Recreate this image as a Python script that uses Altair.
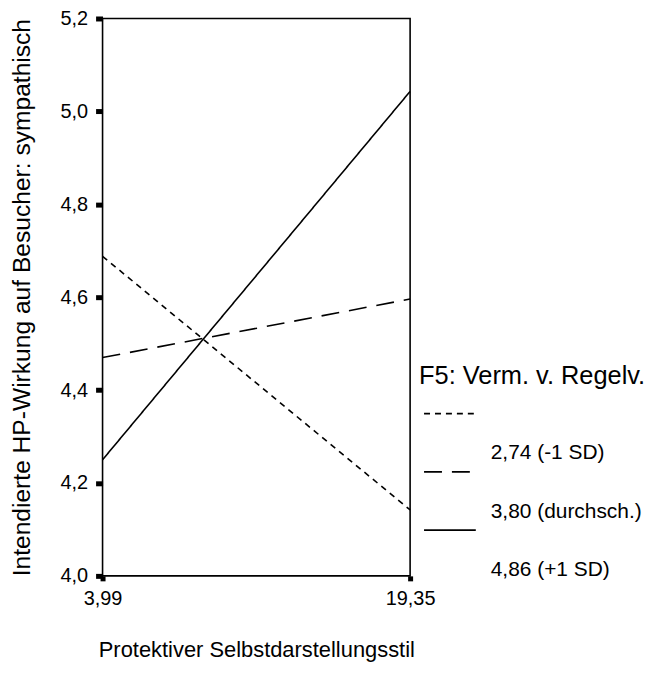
import altair as alt
import pandas as pd

# ---- data ----
series = ["2,74 (-1 SD)", "3,80 (durchsch.)", "4,86 (+1 SD)"]
x_vals = [3.99, 19.35]
y_low = [4.688, 4.142]    # dotted
y_mid = [4.470, 4.596]    # long dash
y_high = [4.250, 5.043]   # solid

y_ticks = [4.0, 4.2, 4.4, 4.6, 4.8, 5.0, 5.2]
x_ticks = [3.99, 19.35]

legend_title = "F5: Verm. v. Regelv."
x_title = "Protektiver Selbstdarstellungsstil"
y_title = "Intendierte HP-Wirkung auf Besucher: sympathisch"

FONT = "Liberation Sans"

rows = []
for s, ys in zip(series, [y_low, y_mid, y_high]):
    for xv, yv in zip(x_vals, ys):
        rows.append({"x": xv, "y": yv, "series": s})
df = pd.DataFrame(rows)

dash_plot = [[6, 5], [18, 10], [1, 0]]
dash_leg = [[6, 10], [17, 15], [1, 0]]

main = alt.Chart(df).mark_line(color="black", strokeWidth=1.6).encode(
    x=alt.X("x:Q",
            scale=alt.Scale(domain=[x_ticks[0], x_ticks[-1]], nice=False, zero=False),
            axis=alt.Axis(values=x_ticks, title=x_title, labelFlush=False,
                          labelExpr="replace(format(datum.value, '.2f'), '.', ',')",
                          tickSize=5, tickWidth=5, labelPadding=8, titlePadding=31,
                          labelFontSize=20, titleFontSize=22)),
    y=alt.Y("y:Q",
            scale=alt.Scale(domain=[y_ticks[0], y_ticks[-1]], nice=False, zero=False),
            axis=alt.Axis(values=y_ticks, title=y_title, labelFlush=False,
                          labelExpr="replace(format(datum.value, '.1f'), '.', ',')",
                          tickSize=7, tickWidth=5, labelPadding=8, titlePadding=26,
                          labelFontSize=20, titleFontSize=24.7)),
    strokeDash=alt.StrokeDash("series:N",
                              scale=alt.Scale(domain=series, range=dash_plot),
                              legend=None),
    detail="series:N",
).properties(width=309, height=560,
             view=alt.ViewBackground(stroke="black", strokeWidth=1.6))

leg_df = pd.DataFrame({"series": series})
leg_base = alt.Chart(leg_df).transform_window(row="row_number()")

yleg = alt.Y("row:Q", scale=alt.Scale(domain=[1, 3], range=[397, 514]), axis=None)

leg_rules = leg_base.mark_rule(color="black", strokeWidth=1.6).encode(
    y=yleg,
    x=alt.value(5), x2=alt.value(57),
    strokeDash=alt.StrokeDash("series:N",
                              scale=alt.Scale(domain=series, range=dash_leg),
                              legend=None),
)
leg_labels = leg_base.mark_text(
    align="left", baseline="middle", dy=40, font=FONT, fontSize=21, color="black"
).encode(y=yleg, x=alt.value(72), text="series:N")
leg_title = leg_base.transform_filter("datum.row == 1").mark_text(
    align="left", baseline="middle", dy=-38, font=FONT, fontSize=25.5, color="black"
).encode(y=yleg, x=alt.value(0), text=alt.value(legend_title))

legend_view = alt.layer(leg_rules, leg_labels, leg_title).properties(
    width=225, height=560, view=alt.ViewBackground(stroke=None)
)

chart = alt.hconcat(main, legend_view, spacing=9, bounds="flush").properties(
    padding={"top": -2, "left": 0, "right": 0, "bottom": 0}
).configure(font=FONT).configure_axis(
    grid=False, domain=False, tickColor="black", labelColor="black",
    titleColor="black", labelFont=FONT, titleFont=FONT, titleFontWeight="normal",
    tickCap="butt",
)

chart.save("out.html", embed_options={"renderer": "svg", "actions": False})
